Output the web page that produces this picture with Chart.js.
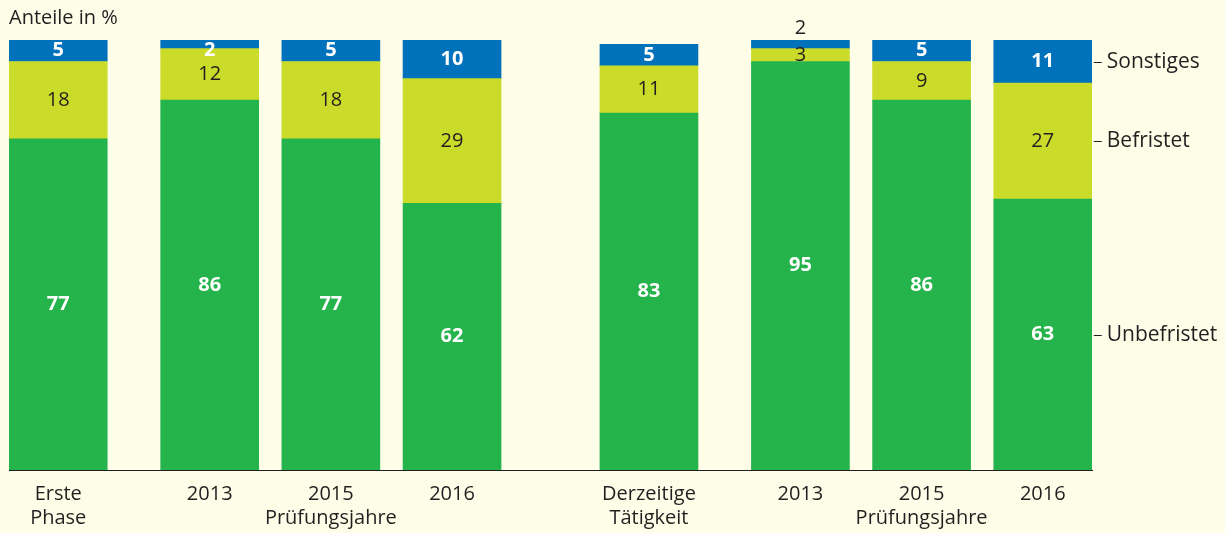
<!DOCTYPE html>
<html>
<head>
<meta charset="utf-8">
<script src="https://cdn.jsdelivr.net/npm/chart.js@4"></script>
<style>
  html, body { margin: 0; padding: 0; background: #fefde8; }
  #wrap { width: 1225px; height: 533px; }
</style>
</head>
<body>
<div id="wrap"><canvas id="myChart"></canvas></div>
<script>
// Data
const categories = [['Erste', 'Phase'], '2013', ['2015', 'Prüfungsjahre'], '2016',
                    ['Derzeitige', 'Tätigkeit'], '2013', ['2015', 'Prüfungsjahre'], '2016'];
const unbefristet = [77, 86, 77, 62, 83, 95, 86, 63];
const befristet   = [18, 12, 18, 29, 11, 3, 9, 27];
const sonstiges   = [5, 2, 5, 10, 5, 2, 5, 11];
const seriesNames = ['Unbefristet', 'Befristet', 'Sonstiges'];

// Layout: empty slots before each bar, and after the last one
const gapsBefore = [6, 19, 15, 15, 25, 19, 15, 15];
const gapAfter = 6;

const colors = {
    green: '#25b34b',
    yellow: '#cbdb2a',
    blue: '#0071bb',
    text: '#231f20',
    bg: '#fefde8'
};
const fontFamily = '"Open Sans", "DejaVu Sans", sans-serif';

// Build spaced labels and data
const labels = [];
const slotIndex = [];
categories.forEach((cat, i) => {
    for (let g = 0; g < gapsBefore[i]; g++) labels.push('');
    slotIndex.push(labels.length);
    labels.push(cat);
});
for (let g = 0; g < gapAfter; g++) labels.push('');

function spread(values) {
    const arr = labels.map(() => null);
    values.forEach((v, i) => { arr[slotIndex[i]] = v; });
    return arr;
}

// Value labels and right-side series names
const labelPlugin = {
    id: 'valueLabels',
    afterDatasetsDraw(chart) {
        const ctx = chart.ctx;
        const area = chart.chartArea;
        ctx.save();
        ctx.textAlign = 'center';
        ctx.textBaseline = 'middle';
        const sets = chart.data.datasets;
        sets.forEach((ds, di) => {
            const meta = chart.getDatasetMeta(di);
            slotIndex.forEach((si) => {
                const bar = meta.data[si];
                const v = ds.data[si];
                if (!bar || v == null) return;
                const top = Math.max(Math.min(bar.y, bar.base), area.top);
                const bottom = Math.max(bar.y, bar.base);
                let y = (top + bottom) / 2;
                const isYellow = di === 1;
                let color = isYellow ? colors.text : '#ffffff';
                let weight = isYellow ? 'normal' : 'bold';
                if (di === 2) {
                    const below = sets[1].data[si];
                    if (v <= 3 && below <= 3) {
                        // too thin: put the label above the bar
                        y = top - 12;
                        color = colors.text;
                        weight = 'normal';
                    } else {
                        y = Math.max(y, area.top + 10);
                    }
                }
                ctx.font = weight + ' 20px ' + fontFamily;
                ctx.fillStyle = color;
                ctx.fillText(String(v), bar.x, y);
            });
        });

        // series names beside the last bar
        const lastSlot = slotIndex[slotIndex.length - 1];
        ctx.textAlign = 'left';
        ctx.font = '21px ' + fontFamily;
        sets.forEach((ds, di) => {
            const bar = chart.getDatasetMeta(di).data[lastSlot];
            const y = Math.round((Math.max(bar.y, area.top) + bar.base) / 2);
            const x = bar.x + bar.width / 2;
            ctx.strokeStyle = colors.text;
            ctx.lineWidth = 1;
            ctx.beginPath();
            ctx.moveTo(x + 2, y + 0.5);
            ctx.lineTo(x + 10, y + 0.5);
            ctx.stroke();
            ctx.fillStyle = colors.text;
            ctx.fillText(seriesNames[di], x + 15, y);
        });
        ctx.restore();
    }
};

const ctx = document.getElementById('myChart').getContext('2d');
new Chart(ctx, {
    type: 'bar',
    data: {
        labels: labels,
        datasets: [
            { label: seriesNames[0], data: spread(unbefristet), backgroundColor: colors.green, clip: 0 },
            { label: seriesNames[1], data: spread(befristet), backgroundColor: colors.yellow, clip: 0 },
            { label: seriesNames[2], data: spread(sonstiges), backgroundColor: colors.blue, clip: 0 }
        ]
    },
    options: {
        responsive: true,
        maintainAspectRatio: false,
        animation: false,
        barThickness: 98,
        layout: { padding: { left: 9, right: 133, top: 0, bottom: -9 } },
        plugins: {
            legend: { display: false },
            tooltip: { enabled: false },
            title: {
                display: true,
                text: 'Anteile in %',
                align: 'start',
                color: colors.text,
                font: { family: fontFamily, size: 20, weight: 'normal', lineHeight: 1.2 },
                padding: { top: 6, bottom: 10 }
            }
        },
        scales: {
            x: {
                stacked: true,
                grid: { display: false, drawTicks: false },
                border: { display: true, color: colors.text, width: 1 },
                ticks: {
                    autoSkip: false,
                    maxRotation: 0,
                    padding: 12,
                    color: colors.text,
                    font: { family: fontFamily, size: 20, lineHeight: 1.2 }
                }
            },
            y: {
                stacked: true,
                display: false,
                min: 0,
                max: 100
            }
        }
    },
    plugins: [labelPlugin]
});
</script>
</body>
</html>
